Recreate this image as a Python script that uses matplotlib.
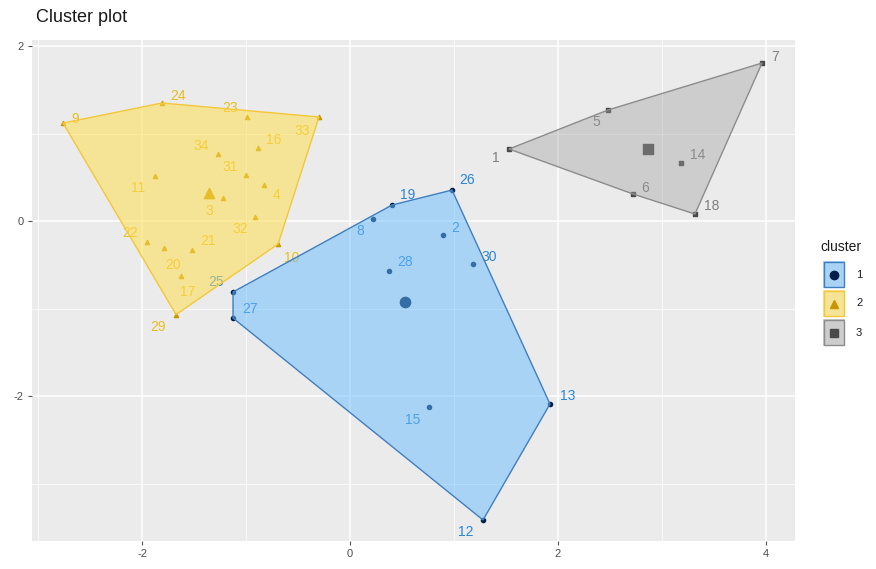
import numpy as np
import matplotlib.pyplot as plt
from matplotlib.patches import Polygon, Rectangle
from matplotlib.lines import Line2D

plt.rcParams['font.family'] = ['Liberation Sans', 'DejaVu Sans']
plt.rcParams['axes.unicode_minus'] = False

# Observations: label, dim1, dim2 for each cluster
c1_labels = ["26", "19", "8", "2", "30", "28", "25", "27", "13", "15", "12"]
c1_x = [0.981, 0.404, 0.221, 0.894, 1.183, 0.375, -1.125, -1.125, 1.923, 0.760, 1.279]
c1_y = [0.354, 0.183, 0.023, -0.160, -0.491, -0.571, -0.811, -1.109, -2.091, -2.126, -3.417]

c2_labels = ["9", "24", "23", "33", "16", "34", "31", "11", "4", "3", "32",
             "22", "20", "21", "17", "29", "10"]
c2_x = [-2.760, -1.808, -0.990, -0.298, -0.885, -1.269, -1.000, -1.875, -0.827,
        -1.221, -0.913, -1.952, -1.788, -1.519, -1.625, -1.673, -0.692]
c2_y = [1.120, 1.349, 1.189, 1.189, 0.834, 0.766, 0.526, 0.514, 0.411,
        0.263, 0.046, -0.240, -0.309, -0.331, -0.629, -1.069, -0.263]

c3_labels = ["7", "5", "1", "14", "6", "18"]
c3_x = [3.962, 2.481, 1.529, 3.183, 2.721, 3.317]
c3_y = [1.806, 1.269, 0.823, 0.663, 0.309, 0.080]

cluster_names = ["1", "2", "3"]

# label offsets in pixels (dx, dy) so text does not sit on the points
offsets = {
    "26": (15, 10), "19": (16, 10), "8": (-13, -12), "2": (12, 7), "30": (16, 7),
    "28": (16, 9), "25": (-17, 10), "27": (17, 9), "13": (18, 8), "15": (-16, -13),
    "12": (-17, -12),
    "9": (12, 4), "24": (16, 7), "23": (-17, 9), "33": (-17, -14), "16": (16, 8),
    "34": (-17, 8), "31": (-16, 8), "11": (-17, -12), "4": (12, -10), "3": (-14, -13),
    "32": (-15, -12), "22": (-17, 9), "20": (9, -17), "21": (16, 9), "17": (7, -16),
    "29": (-18, -12), "10": (14, -14),
    "7": (13, 6), "5": (-12, -12), "1": (-13, -9), "14": (17, 8), "6": (12, 6),
    "18": (17, 8),
}

fill_colors = ["#69BDFF", "#FFDE50", "#A0A0A0"]
fill_alpha = [0.5, 0.55, 0.4]
edge_colors = ["#3F7FBF", "#F2C83A", "#8C8C8C"]
text_colors = ["#2A86D6", "#E8BE20", "#7F7F7F"]
point_colors = ["#00204A", "#C89600", "#4A4A4A"]
markers = ["o", "^", "s"]


def convex_hull(pts):
    pts = sorted(set(pts))
    if len(pts) < 3:
        return pts

    def cross(o, a, b):
        return (a[0] - o[0]) * (b[1] - o[1]) - (a[1] - o[1]) * (b[0] - o[0])

    lower, upper = [], []
    for p in pts:
        while len(lower) >= 2 and cross(lower[-2], lower[-1], p) <= 0:
            lower.pop()
        lower.append(p)
    for p in reversed(pts):
        while len(upper) >= 2 and cross(upper[-2], upper[-1], p) <= 0:
            upper.pop()
        upper.append(p)
    return lower[:-1] + upper[:-1]


fig = plt.figure(figsize=(8.76, 5.69), dpi=100)
ax = fig.add_axes([32 / 876, 1 - 541 / 569, (795 - 32) / 876, (541 - 40) / 569])
ax.set_facecolor("#EBEBEB")
ax.set_xlim(-3.058, 4.279)
ax.set_ylim(-3.657, 2.069)

ax.set_xticks([-2, 0, 2, 4])
ax.set_xticks([-3, -1, 1, 3], minor=True)
ax.set_yticks([-2, 0, 2])
ax.set_yticks([-3, -1, 1], minor=True)
ax.grid(which="major", color="white", linewidth=1.1)
ax.grid(which="minor", color="white", linewidth=0.55)
ax.set_axisbelow(True)
for s in ax.spines.values():
    s.set_visible(False)
ax.tick_params(which="major", length=3, color="#555555", labelsize=8,
               labelcolor="#4D4D4D", pad=3)
ax.tick_params(which="minor", length=0)

clusters = [(c1_labels, c1_x, c1_y), (c2_labels, c2_x, c2_y), (c3_labels, c3_x, c3_y)]

# points and labels first, hulls go on top with transparency
for k, (labs, xs, ys) in enumerate(clusters):
    ax.scatter(xs, ys, s=9, color=point_colors[k], marker=markers[k], zorder=2)
    ax.scatter([np.mean(xs)], [np.mean(ys)], s=55, color=point_colors[k],
               marker=markers[k], zorder=2)
    for lab, x, y in zip(labs, xs, ys):
        dx, dy = offsets[lab]
        ax.annotate(lab, (x, y), xytext=(dx, dy), textcoords="offset pixels",
                    ha="center", va="center", fontsize=10, color=text_colors[k],
                    zorder=2)

for k, (labs, xs, ys) in enumerate(clusters):
    hull = convex_hull(list(zip(xs, ys)))
    ax.add_patch(Polygon(hull, closed=True, facecolor=fill_colors[k],
                         alpha=fill_alpha[k], edgecolor="none", zorder=3))
    ax.add_patch(Polygon(hull, closed=True, facecolor="none",
                         edgecolor=edge_colors[k], linewidth=1.0, zorder=3))

fig.text(36 / 876, 1 - 18 / 569, "Cluster plot", fontsize=13, color="#1A1A1A",
         ha="left", va="center")

# legend drawn by hand: filled key box with the cluster marker
fig.text(820 / 876, 1 - 247 / 569, "cluster", fontsize=10, color="#1A1A1A",
         ha="left", va="center")
key_w, key_h = 22, 27
for k, name in enumerate(cluster_names):
    top = 261 + k * 29
    x0 = 823 / 876
    y0 = 1 - (top + key_h) / 569
    fig.patches.append(Rectangle((x0, y0), key_w / 876, key_h / 569,
                                 transform=fig.transFigure, facecolor="#EBEBEB",
                                 edgecolor="none"))
    fig.lines.append(Line2D([x0 + key_w / 2 / 876], [y0 + key_h / 2 / 569],
                            transform=fig.transFigure, marker=markers[k],
                            markersize=6, color=point_colors[k], linestyle="none"))
    fig.patches.append(Rectangle((x0, y0), key_w / 876, key_h / 569,
                                 transform=fig.transFigure, facecolor=fill_colors[k],
                                 alpha=fill_alpha[k], edgecolor="none"))
    fig.patches.append(Rectangle((x0 + 1 / 876, y0 + 1 / 569), (key_w - 2) / 876,
                                 (key_h - 2) / 569, transform=fig.transFigure,
                                 facecolor="none", edgecolor=edge_colors[k],
                                 linewidth=1.0))
    fig.text(856 / 876, y0 + key_h / 2 / 569, name, fontsize=8, color="#1A1A1A",
             ha="left", va="center")

fig.savefig("out.png", dpi=100)
